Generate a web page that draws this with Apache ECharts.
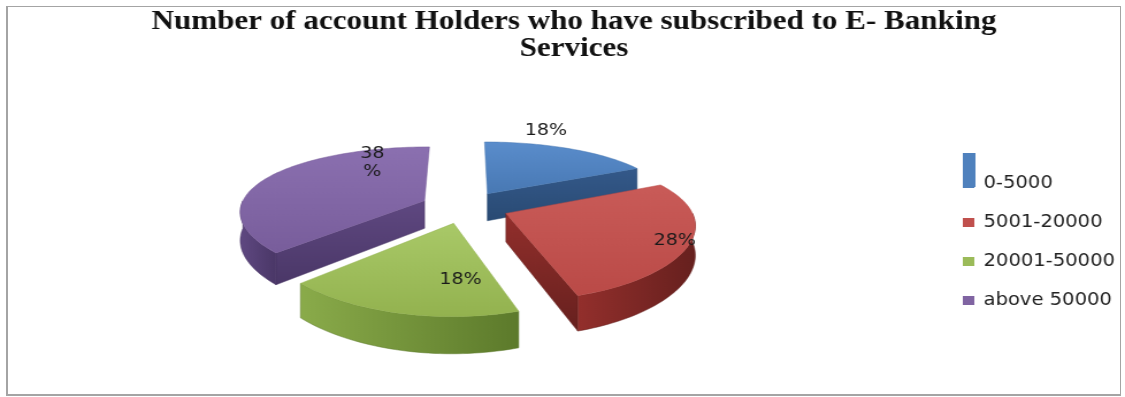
<!DOCTYPE html>
<html>
<head>
<meta charset="utf-8">
<title>E-Banking subscribers</title>
<script src="https://cdn.jsdelivr.net/npm/echarts@6/dist/echarts.min.js"></script>
<style>
  html, body { margin: 0; padding: 0; background: #ffffff; }
  #chart {
    position: absolute; left: 0; top: 0;
    width: 978px; height: 397px;
    transform: scaleX(1.1503); transform-origin: 0 0;
  }
  #frame {
    position: absolute; left: 6px; top: 6px;
    width: 1112px; height: 387px;
    border: 1px solid #a4a4a4; border-left-width: 2px; border-bottom-width: 2px;
    pointer-events: none;
  }
</style>
</head>
<body>
<div id="chart"></div>
<div id="frame"></div>
<script>
// Account balance bands and the share of subscribers in each (percent)
const categories = ['0-5000', '5001-20000', '20001-50000', 'above 50000'];
const shares = [18, 28, 18, 38];

// Slice colours: top face gradient, wall gradient, legend swatch
const topColors  = [['#5a8dcc', '#4878b3'], ['#c95b58', '#ba4a47'], ['#a9c968', '#93b24f'], ['#8b70b0', '#785d9b']];
const wallColors = [['#34598a', '#294a73'], ['#932f2c', '#66201e'], ['#8aab4a', '#5c7a2b'], ['#5f4881', '#4a3767']];
const swatch     = ['#4f81bd', '#c0504d', '#9bbb59', '#8064a2'];

// Where each value label sits: fraction along the slice's sweep and radius
const labelSpots = [
  { frac: 0.28, r: 1.33 },
  { frac: 0.50, r: 0.92 },
  { frac: 0.225, r: 0.66 },
  { frac: 0.80, r: 0.74, wrap: true }
];

// Tilted, exploded 3D pie projection
const view = { cx: 404, cy: 207, rx: 160, ry: 67, depth: 28, perspX: 0.14, perspY: 0.2, explode: 0.24 };

const total = shares.reduce((a, b) => a + b, 0);
const starts = shares.map((v, i) => shares.slice(0, i).reduce((a, b) => a + b, 0));

function project(X, Y, z) {
  const kx = 1 / (1 + view.perspX * Y);
  const ky = 1 / (1 + view.perspY * Y);
  return [view.cx + X * view.rx * kx, view.cy - Y * view.ry * ky + z * view.depth * ky];
}

function grad(c, horizontal) {
  return new echarts.graphic.LinearGradient(0, 0, horizontal ? 1 : 0, horizontal ? 0 : 1,
    [{ offset: 0, color: c[0] }, { offset: 1, color: c[1] }]);
}

function midAngle(i) {
  return (starts[i] + shares[i] / 2) / total * Math.PI * 2;
}

function renderSlice(params, api) {
  const i = api.value(1);
  const value = api.value(0);
  const a0 = starts[i] / total * Math.PI * 2;
  const a1 = (starts[i] + value) / total * Math.PI * 2;
  const mid = (a0 + a1) / 2;
  const ox = view.explode * Math.sin(mid);
  const oy = view.explode * Math.cos(mid);
  const pt = (a, r, z) => project(ox + r * Math.sin(a), oy + r * Math.cos(a), z);

  const arc = (s, e, z) => {
    const n = Math.max(2, Math.ceil((e - s) / (Math.PI / 120)));
    const out = [];
    for (let j = 0; j <= n; j++) out.push(pt(s + (e - s) * j / n, 1, z));
    return out;
  };

  const children = [];
  const cutFace = (a) => ({
    type: 'polygon',
    shape: { points: [pt(a, 0, 0), pt(a, 1, 0), pt(a, 1, 1), pt(a, 0, 1)] },
    style: { fill: grad(wallColors[i], false), stroke: wallColors[i][1], lineWidth: 0.5 }
  });
  if (Math.sin(a1) > 1e-6) children.push(cutFace(a1));
  if (Math.sin(a0) < -1e-6) children.push(cutFace(a0));

  // outer curved wall, only the part that faces the viewer
  const s = Math.max(a0, Math.PI / 2), e = Math.min(a1, Math.PI * 1.5);
  if (e > s) {
    const pts = arc(s, e, 0).concat(arc(s, e, 1).reverse());
    children.push({ type: 'polygon', shape: { points: pts },
      style: { fill: grad(wallColors[i], true), stroke: wallColors[i][1], lineWidth: 0.5 } });
  }

  // top face
  const top = [pt(a0, 0, 0)].concat(arc(a0, a1, 0));
  children.push({ type: 'polygon', shape: { points: top },
    style: { fill: grad(topColors[i], false), stroke: topColors[i][1], lineWidth: 0.5 } });

  // value label
  const spot = labelSpots[i];
  const la = a0 + (a1 - a0) * spot.frac;
  const lp = pt(la, spot.r, 0);
  children.push({
    type: 'text',
    style: {
      text: spot.wrap ? value + '\n%' : value + '%',
      x: lp[0], y: lp[1], align: 'center', verticalAlign: 'middle',
      fontFamily: 'DejaVu Sans', fontSize: 16.5, lineHeight: 18, fill: '#1a1a1a'
    }
  });
  return { type: 'group', children };
}

// back slices first
const depthRank = categories.map((_, i) => i)
  .sort((p, q) => Math.cos(midAngle(q)) - Math.cos(midAngle(p)));

const chart = echarts.init(document.getElementById('chart'));
chart.setOption({
  backgroundColor: '#ffffff',
  animation: false,
  title: {
    text: 'Number of account Holders who have subscribed to E- Banking\nServices',
    left: 499, top: 9, padding: 0, textAlign: 'center',
    textStyle: { fontFamily: 'Liberation Serif', fontWeight: 'bold', fontSize: 27, lineHeight: 27, color: '#111111' }
  },
  legend: {
    orient: 'vertical', left: 832, top: 170,
    itemWidth: 10, itemHeight: 9, itemGap: 22, icon: 'rect',
    selectedMode: false,
    textStyle: { fontFamily: 'DejaVu Sans', fontSize: 17, lineHeight: 16, color: '#222222', padding: [0, 0, 0, 3] },
    data: categories
  },
  // the first legend swatch is drawn as a tall bar
  graphic: [{
    type: 'rect', x: 837, y: 153, z: 100, silent: true,
    shape: { width: 11, height: 34 },
    style: { fill: swatch[0] }
  }],
  series: categories.map((name, i) => ({
    type: 'custom',
    name,
    coordinateSystem: 'none',
    z: 2 + depthRank.indexOf(i),
    silent: true,
    itemStyle: { color: swatch[i] },
    data: [[shares[i], i]],
    renderItem: renderSlice
  }))
});
</script>
</body>
</html>
